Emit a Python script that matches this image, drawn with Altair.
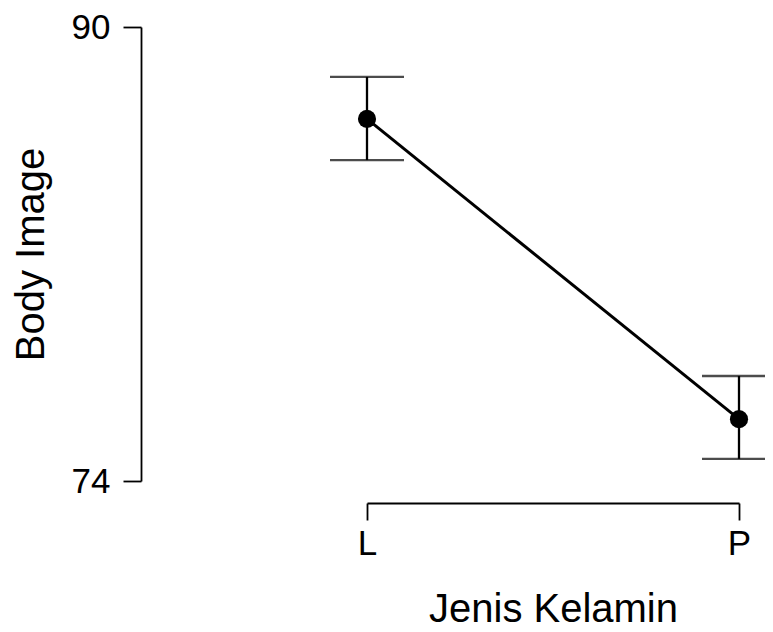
import altair as alt
import pandas as pd

categories = ["L", "P"]
means = [86.76, 76.18]
upper = [88.24, 77.70]
lower = [85.31, 74.78]

df = pd.DataFrame({"g": categories, "m": means, "hi": upper, "lo": lower})

FONT = "Liberation Sans"

x = alt.X(
    "g:N",
    scale=alt.Scale(type="point", padding=0),
    axis=alt.Axis(
        title="Jenis Kelamin", labelAngle=0, offset=22, tickSize=17,
        tickColor="black", domainColor="black", tickWidth=1.8, domainWidth=1.8,
        labelFont=FONT, labelFontSize=35, labelColor="black", labelPadding=6,
        titleFont=FONT, titleFontSize=40, titleFontWeight="normal", titleColor="black",
        titlePadding=28, grid=False,
    ),
)
yscale = alt.Scale(domain=[74, 90], nice=False, zero=False)
y = alt.Y(
    "m:Q", scale=yscale,
    axis=alt.Axis(
        title="Body Image", values=[74, 90], offset=226, tickSize=18,
        tickColor="black", domainColor="black", tickWidth=1.8, domainWidth=1.8,
        labelFont=FONT, labelFontSize=35, labelColor="black", labelPadding=13,
        titleFont=FONT, titleFontSize=40, titleFontWeight="normal", titleColor="black",
        titlePadding=20, grid=False,
    ),
)

base = alt.Chart(df)
line = base.mark_line(color="black", strokeWidth=3).encode(x=x, y=y)
rule = base.mark_rule(color="black", strokeWidth=2.3).encode(
    x="g:N", y=alt.Y("lo:Q", scale=yscale), y2="hi:Q"
)
cap_hi = base.mark_tick(color="black", thickness=2.3, size=74, orient="horizontal").encode(
    x="g:N", y=alt.Y("hi:Q", scale=yscale)
)
cap_lo = base.mark_tick(color="black", thickness=2.3, size=74, orient="horizontal").encode(
    x="g:N", y=alt.Y("lo:Q", scale=yscale)
)
pts = base.mark_point(filled=True, color="black", size=330, opacity=1).encode(x=x, y=y)

chart = (
    alt.layer(line, rule, cap_hi, cap_lo, pts)
    .properties(
        width=372, height=454,
        background="white",
        autosize=alt.AutoSizeParams(type="none"),
        padding={"left": 359, "top": 19, "right": 26, "bottom": 150},
    )
    .configure_view(stroke=None, strokeWidth=0)
)

chart.save("out.html", embed_options={"renderer": "svg", "actions": False})
